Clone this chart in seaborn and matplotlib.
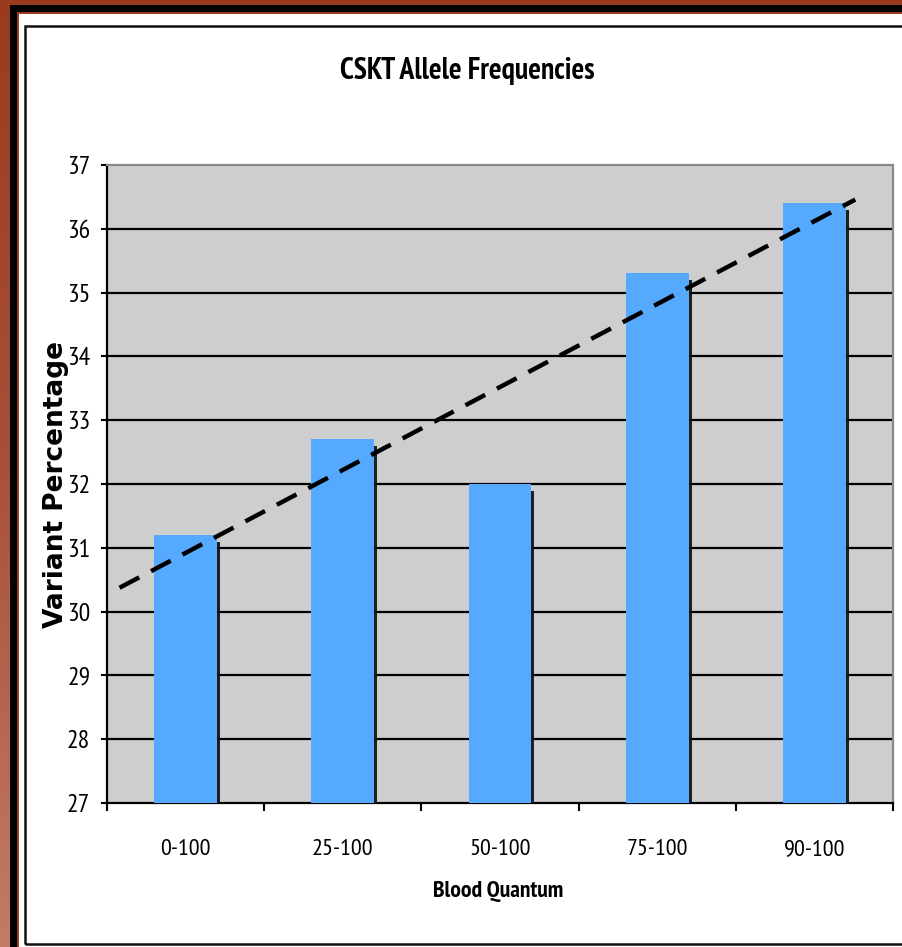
import numpy as np
import matplotlib
matplotlib.use("Agg")
import matplotlib.pyplot as plt
import matplotlib.patheffects as pe
from matplotlib.patches import Rectangle
from matplotlib.colors import LinearSegmentedColormap
import seaborn as sns

# ---- data ----
categories = ["0-100", "25-100", "50-100", "75-100", "90-100"]
values = [31.2, 32.7, 32.0, 35.3, 36.4]
y_ticks = [27, 28, 29, 30, 31, 32, 33, 34, 35, 36, 37]
title = "CSKT Allele Frequencies"
x_label = "Blood Quantum"
y_label = "Variant Percentage"

W, H = 903, 947
NARROW = ["PT Sans Narrow", "DejaVu Sans"]

fig = plt.figure(figsize=(W / 100, H / 100), dpi=100, facecolor="#9b3a1f")


def rect(x0, y0, x1, y1, **kw):
    r = Rectangle((x0 / W, 1 - y1 / H), (x1 - x0) / W, (y1 - y0) / H,
                  transform=fig.transFigure, **kw)
    fig.add_artist(r)
    return r


# left gradient strip of the brown frame
gax = fig.add_axes([0, 0, 10 / W, 1], zorder=-20)
cmap = LinearSegmentedColormap.from_list("br", ["#9b3a1f", "#a8503a", "#c27c66"])
gax.imshow(np.linspace(0, 1, 256).reshape(-1, 1), aspect="auto", cmap=cmap,
           extent=[0, 1, 0, 1], origin="upper")
gax.set_axis_off()

rect(10, 5, W, H, facecolor="black", edgecolor="none", zorder=-5)
rect(17, 12, W, H, facecolor="#9b3a1f", edgecolor="none", zorder=-4)
rect(19, 14, W, H, facecolor="white", edgecolor="none", zorder=-3)
rect(25, 26, 915, 944, facecolor="none", edgecolor="#111111", linewidth=1.8, zorder=-2)

# ---- main axes ----
ax = fig.add_axes([107 / W, 1 - 803 / H, (893 - 107) / W, (803 - 165) / H])
ax.set_facecolor("#cecece")

sns.barplot(x=categories, y=values, color="#55a9ff", saturation=1, width=0.4,
            ax=ax, zorder=3)
for p in ax.patches:
    p.set_path_effects([pe.SimplePatchShadow(offset=(2.2, -5), shadow_rgbFace="#151515",
                                             alpha=0.95), pe.Normal()])

# linear trendline
coef = np.polyfit(np.arange(len(values)), values, 1)
xs = np.array([-0.42, 4.26])
ax.plot(xs, np.polyval(coef, xs), color="black", linewidth=3.2,
        linestyle=(0, (5.0, 3.0)), dash_capstyle="butt", zorder=5)

ax.set_xlim(-0.5, len(categories) - 0.5)
ax.set_ylim(y_ticks[0], y_ticks[-1])
ax.set_yticks(y_ticks)
ax.set_yticklabels([str(t) for t in y_ticks], family=NARROW, fontsize=18.5)
ax.set_xticks(range(len(categories)))
ax.set_xticklabels(categories, family=NARROW, fontsize=17.5)
ax.set_xticks(np.arange(-0.5, len(categories), 1.0), minor=True)
ax.tick_params(axis="x", which="major", length=0, pad=26)
ax.tick_params(axis="x", which="minor", length=6, width=1.5, color="black", direction="out")
ax.tick_params(axis="y", length=4, width=1.5, color="black", pad=8)

ax.grid(False)
for t in y_ticks[1:-1]:
    ax.axhline(t, color="black", linewidth=1.6, zorder=1)

for s in ["left", "bottom"]:
    ax.spines[s].set_color("black")
    ax.spines[s].set_linewidth(1.6)
for s in ["top", "right"]:
    ax.spines[s].set_color("#8a8a8a")
    ax.spines[s].set_linewidth(1.6)

ax.set_xlabel("")
ax.set_ylabel("")

fig.text(467 / W, 1 - 71 / H, title, ha="center", va="center", family=NARROW,
         fontweight="bold", fontsize=21.5)
fig.text(498 / W, 1 - 891 / H, x_label, ha="center", va="center", family=NARROW,
         fontweight="bold", fontsize=17)
fig.text(56 / W, 1 - 484 / H, y_label, ha="center", va="center", rotation=90,
         family=["DejaVu Sans"], fontweight="bold", fontsize=19)

fig.savefig("out.png", dpi=100, facecolor=fig.get_facecolor())
